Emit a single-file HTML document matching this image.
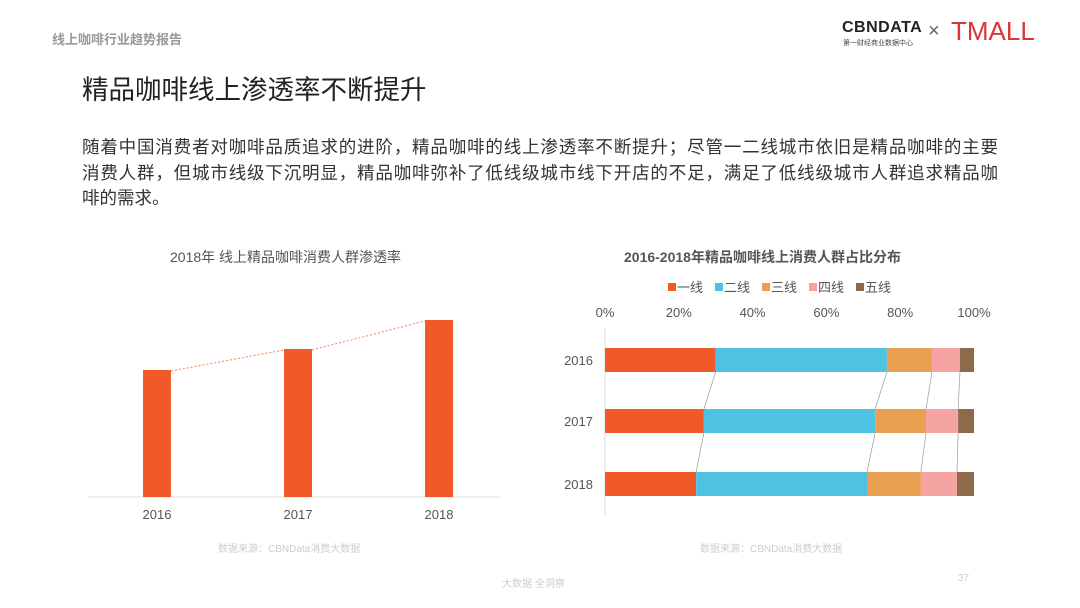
<!DOCTYPE html>
<html><head><meta charset="utf-8"><style>
body{margin:0;width:1080px;height:608px;background:#fff;overflow:hidden;font-family:"Liberation Sans","Noto Sans CJK SC",sans-serif;position:relative}
.abs{position:absolute;white-space:nowrap}
.pl{position:absolute;left:82px;width:916px;font-size:17.5px;color:#333;white-space:nowrap;text-align:justify;text-align-last:justify}
</style></head><body>
<div class="abs" style="left:52px;top:29px;font-size:13px;color:#999;font-weight:bold">线上咖啡行业趋势报告</div>
<div class="abs" style="left:842px;top:19px;font-size:16px;font-weight:bold;color:#222;letter-spacing:0.5px">CBNDATA</div>
<div class="abs" style="left:843px;top:38px;font-size:7px;color:#444">第一财经商业数据中心</div>
<div class="abs" style="left:928px;top:20px;font-size:20px;color:#666">×</div>
<div class="abs" style="left:951px;top:16px;font-size:26px;color:#d9363a">TMALL</div>
<div class="abs" style="left:82px;top:68px;font-size:26.5px;color:#222">精品咖啡线上渗透率不断提升</div>
<div>
<div class="pl" style="top:134px">随着中国消费者对咖啡品质追求的进阶，精品咖啡的线上渗透率不断提升；尽管一二线城市依旧是精品咖啡的主要</div>
<div class="pl" style="top:159.5px">消费人群，但城市线级下沉明显，精品咖啡弥补了低线级城市线下开店的不足，满足了低线级城市人群追求精品咖</div>
<div class="pl" style="top:185px;text-align-last:left;width:auto">啡的需求。</div>
</div>
<div class="abs" style="left:170px;top:247px;font-size:14px;color:#555">2018年 线上精品咖啡消费人群渗透率</div>
<div class="abs" style="left:624px;top:247px;font-size:14px;color:#555;font-weight:bold">2016-2018年精品咖啡线上消费人群占比分布</div>
<div class="abs" style="left:218px;top:540px;font-size:10px;color:#ccc">数据来源：CBNData消费大数据</div>
<div class="abs" style="left:700px;top:540px;font-size:10px;color:#ccc">数据来源：CBNData消费大数据</div>
<div class="abs" style="left:502px;top:575px;font-size:10px;color:#ccc">大数据 全洞察</div>
<div class="abs" style="left:958px;top:573px;font-size:10px;color:#ccc">37</div>
<svg id="c1" class="abs" style="left:0;top:0" width="1080" height="608"></svg>
<script>
const years=["2016","2017","2018"];
const penetration=[127,148,177];
const tiers=["一线","二线","三线","四线","五线"];
const tierColors=["#f05a28","#4fc1e3","#e9a050","#f5a3a3","#8c6a4a"];
const share2016=[30,46.4,12.2,7.6,3.8];
const share2017=[26.8,46.4,13.8,8.7,4.3];
const share2018=[24.7,46.3,14.6,9.8,4.6];
const shares=[share2016,share2017,share2018];
const pctTicks=["0%","20%","40%","60%","80%","100%"];
const NS="http://www.w3.org/2000/svg";
const svg=document.getElementById('c1');
function mk(t,a){const e=document.createElementNS(NS,t);for(const k in a)e.setAttribute(k,a[k]);svg.appendChild(e);return e;}
const base=497,yMax=200,pxMax=200;
const yL=v=>base-v/yMax*pxMax;
const xL=i=>157+i*141;
let ax=mk('line',{x1:88,x2:500,y1:base,y2:base,stroke:'#ddd','stroke-width':1});

let pts=[];
penetration.forEach((v,i)=>{
 const r=mk('rect',{x:xL(i)-14,y:yL(v),width:28,height:base-yL(v),fill:'#f05a28'});
 
 
 pts.push([xL(i)+14,yL(v)]);
 const t=mk('text',{x:xL(i),y:base+22,'text-anchor':'middle','font-size':13,fill:'#555'});t.textContent=years[i];
 
 
});
for(let i=0;i<pts.length-1;i++){
 const l=mk('line',{x1:pts[i][0],y1:pts[i][1]+1,x2:xL(i+1)-14,y2:yL(penetration[i+1])+1,stroke:'#f08060','stroke-width':1,'stroke-dasharray':'2,2'});
 
 
}
const x0=605,x1=974;
const xR=p=>x0+p/100*(x1-x0);
const yTop=[348,409,472],bh=24;
const vl=mk('line',{x1:x0,x2:x0,y1:328,y2:515,stroke:'#ddd'});

pctTicks.forEach((s,i)=>{const t=mk('text',{x:xR(i*20),y:317,'text-anchor':'middle','font-size':13,fill:'#555'});t.textContent=s;
 
 });
const cum=shares.map(a=>{let c=0;return a.map(v=>(c+=v));});
shares.forEach((row,r)=>{
 let c=0;
 row.forEach((v,k)=>{
  const rc=mk('rect',{x:xR(c),y:yTop[r],width:xR(c+v)-xR(c),height:bh,fill:tierColors[k]});
  
  
  c+=v;
 });
 const t=mk('text',{x:593,y:yTop[r]+17,'text-anchor':'end','font-size':13,fill:'#555'});t.textContent=years[r];
 
 
});
for(let r=0;r<2;r++)for(let k=0;k<4;k++){
 const l=mk('line',{x1:xR(cum[r][k]),y1:yTop[r]+bh,x2:xR(cum[r+1][k]),y2:yTop[r+1],stroke:'#999','stroke-width':0.7});
 
 
}
let lx=668;
tiers.forEach((s,k)=>{
 const r=mk('rect',{x:lx,y:283,width:8,height:8,fill:tierColors[k]});
 
 
 const t=mk('text',{x:lx+9,y:292,'font-size':13,fill:'#555'});t.textContent=s;
 
 
 lx+=47;
});
</script>
</body></html>
